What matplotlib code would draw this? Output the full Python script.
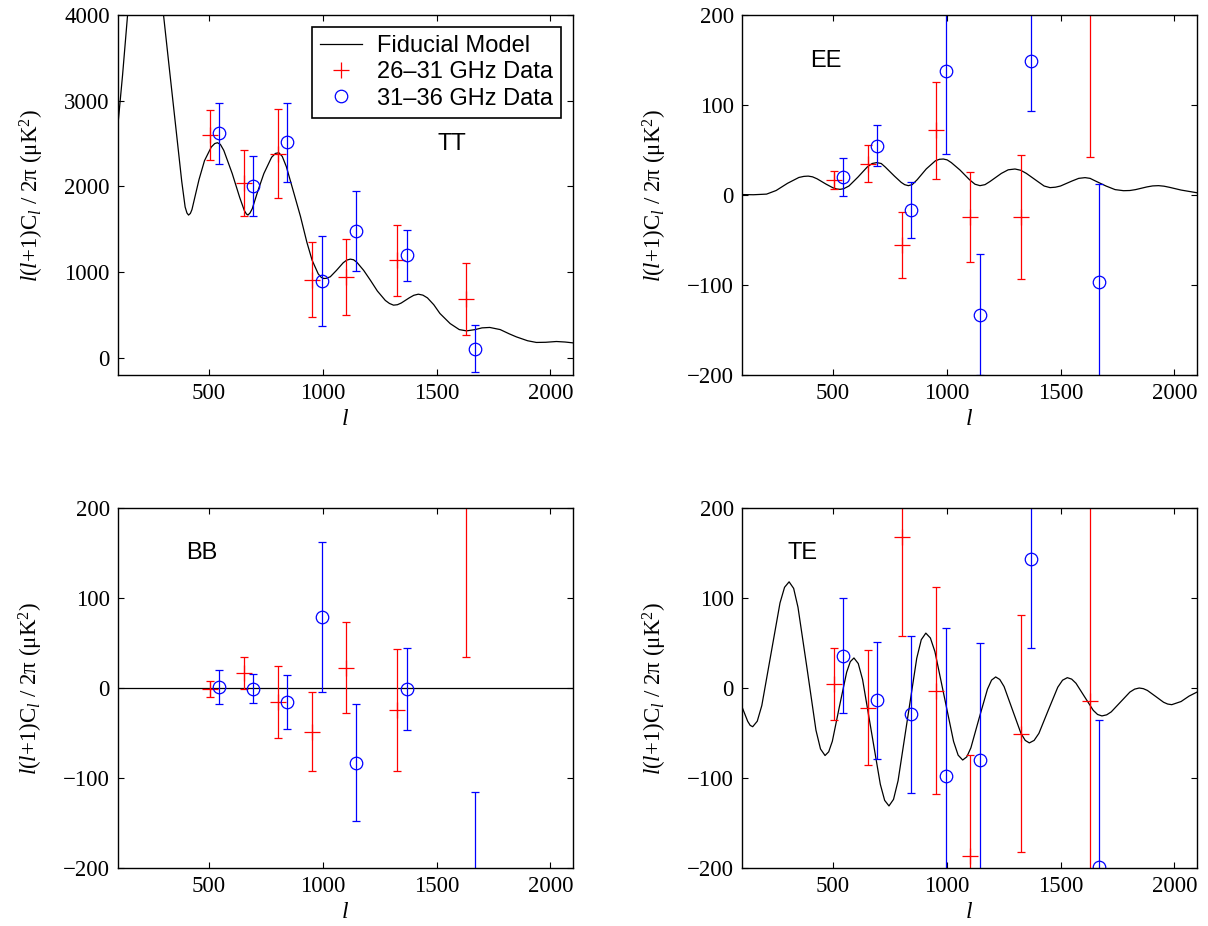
import numpy as np
import matplotlib.pyplot as plt

plt.rcParams['font.family'] = 'Liberation Serif'
plt.rcParams['mathtext.fontset'] = 'custom'
plt.rcParams['mathtext.rm'] = 'Liberation Serif'
plt.rcParams['mathtext.it'] = 'Liberation Serif:italic'

# --- Band positions (multipole l) ---
l_red = [503, 653, 805, 954, 1104, 1328, 1629]
l_blue = [545, 694, 844, 995, 1145, 1369, 1671]

# --- Band powers [uK^2] ---
tt_red = [2599, 2043, 2381, 914, 946, 1140, 685]
tt_red_err = [292, 385, 517, 436, 440, 415, 422]
tt_blue = [2619, 2000, 2514, 895, 1475, 1195, 109]
tt_blue_err = [360, 350, 460, 523, 467, 302, 278]

ee_red = [16.7, 35, -55.6, 72, -24.4, -24, 250]
ee_red_err = [10.4, 20.5, 37, 54, 50, 69, 208]
ee_blue = [20.4, 54.8, -16.3, 137.8, -133, 149, -96.3]
ee_blue_err = [21, 23, 31, 92, 67, 56, 108]

bb_red = [-1.1, 16.7, -15.6, -48.7, 22.7, -24.5, 240]
bb_red_err = [8.5, 17.6, 40, 44, 50.5, 68, 205]
bb_blue = [1.1, -0.7, -15.6, 78.7, -82.8, -0.7, -290]
bb_blue_err = [18.5, 16.3, 29.7, 83, 65.5, 45.4, 174]

te_red = [4.5, -21.9, 168, -3.3, -186.4, -50.9, -14.5]
te_red_err = [40.5, 64, 110, 115, 112, 131.5, 260]
te_blue = [36, -13.7, -29.3, -97.7, -79.5, 143, -199.4]
te_blue_err = [64, 65, 87, 164, 129, 98, 164]

# --- Fiducial model curves ---
tt_l = [100, 120, 142, 160, 190, 220, 250, 280, 300, 325, 354, 380, 395, 403,
        410, 418, 425, 440, 456, 480, 510, 525, 537, 550, 565, 602, 635, 655,
        664, 671, 680, 690, 715, 741, 775, 792, 807, 822, 840, 870, 902, 930,
        953, 980, 993, 1004, 1015, 1033, 1060, 1090, 1105, 1121, 1135, 1150,
        1180, 1209, 1240, 1275, 1293, 1311, 1328, 1345, 1380, 1400, 1420, 1440,
        1460, 1488, 1515, 1560, 1600, 1632, 1670, 1700, 1734, 1780, 1820, 1851,
        1900, 1939, 1980, 2027, 2065, 2100]
tt_model = [2730, 3300, 4000, 4650, 5350, 5650, 5450, 4800, 4000, 3390, 2690,
            2060, 1760, 1690, 1666, 1685, 1730, 1900, 2080, 2300, 2460, 2500,
            2510, 2490, 2420, 2150, 1870, 1720, 1680, 1666, 1690, 1740, 1950,
            2150, 2340, 2385, 2393, 2350, 2230, 1950, 1650, 1350, 1140, 980, 940,
            926, 928, 946, 1020, 1110, 1140, 1152, 1145, 1115, 1020, 907, 780,
            670, 635, 615, 620, 640, 700, 730, 743, 732, 700, 620, 518, 400, 330,
            315, 330, 350, 355, 330, 280, 245, 200, 180, 182, 191, 185, 175]

ee_l = [100, 150, 208, 250, 300, 350, 372, 391, 410, 430, 470, 500, 516, 531,
        547, 570, 610, 650, 672, 692, 712, 730, 770, 800, 815, 831, 848, 870,
        910, 950, 968, 985, 1002, 1020, 1058, 1100, 1124, 1146, 1168, 1190,
        1240, 1270, 1300, 1325, 1350, 1400, 1428, 1454, 1478, 1500, 1550, 1580,
        1608, 1630, 1650, 1700, 1740, 1777, 1805, 1830, 1880, 1905, 1931, 1955,
        1980, 2030, 2100]
ee_model = [0.5, 0.3, 1, 5, 13, 19.5, 20.7, 21, 20.2, 18, 12, 8, 6.7, 6.3, 7,
            10, 20, 31, 35, 36, 35, 31, 21, 14, 11.5, 10.4, 11.5, 17, 29, 38,
            39.7, 40, 39, 36, 27.8, 17, 12, 10.4, 11.5, 15, 24, 28, 28.9, 27.5,
            24, 15, 10, 8.2, 8.7, 10, 15.5, 18.5, 19.3, 18.5, 16, 10, 6, 4.8, 5,
            6, 9, 10.1, 10.4, 9.8, 8.5, 5.5, 2.5]

bb_l = [100, 2100]
bb_model = [0, 0]

te_l = [100, 125, 136, 147, 167, 187, 227, 267, 287, 307, 327, 346, 386, 425,
        445, 465, 481, 497, 528, 560, 576, 592, 611, 630, 669, 708, 727, 746,
        766, 786, 827, 868, 888, 908, 928, 948, 989, 1030, 1050, 1070, 1088,
        1106, 1142, 1179, 1197, 1215, 1233, 1252, 1289, 1326, 1345, 1363, 1384,
        1405, 1446, 1488, 1509, 1530, 1549, 1568, 1606, 1644, 1663, 1682, 1703,
        1723, 1764, 1805, 1826, 1846, 1864, 1882, 1918, 1953, 1971, 1989, 2030,
        2065, 2100]
te_model = [-21, -37, -41.5, -43, -36.9, -19.5, 37.5, 94.5, 111.9, 118, 110.7,
            89.8, 21.5, -46.8, -67.7, -75, -70.9, -59.2, -20.8, 17.6, 29.3, 33.4,
            27.2, 9.4, -48.8, -107, -124.8, -131, -123.7, -103, -35, 33, 53.7,
            61, 55.6, 40.4, -9.5, -59.4, -74.6, -80, -76.5, -66.5, -33.8, -1.2,
            8.8, 12.3, 9.5, 1.6, -24.4, -50.3, -58.2, -61, -58.2, -50.4, -24.8,
            0.9, 8.7, 11.5, 9.9, 5.3, -9.8, -24.8, -29.4, -31, -29.8, -26.5,
            -15.5, -4.5, -1.2, 0, -0.7, -2.7, -9.3, -15.8, -17.8, -18.5, -15,
            -9, -4.5]

ylabel = r'$l(l$+1)C$_l$ / 2π (μK$^2$)'
sans = 'Liberation Sans'


def plot_panel(ax, model_l, model, red, red_err, blue, blue_err,
               name, name_xy, ylim, yticks):
    ax.plot(model_l, model, color='black', lw=0.9, label='Fiducial Model')
    ax.errorbar(l_red, red, yerr=red_err, fmt='none', ecolor='red',
                elinewidth=0.9, capsize=3, capthick=0.9)
    ax.plot(l_red, red, '+', color='red', ms=11, mew=0.9,
            label='26\u201331 GHz Data')
    ax.errorbar(l_blue, blue, yerr=blue_err, fmt='none', ecolor='blue',
                elinewidth=0.9, capsize=3, capthick=0.9)
    ax.plot(l_blue, blue, 'o', mfc='none', mec='blue', ms=9, mew=0.9,
            label='31\u201336 GHz Data')

    ax.text(name_xy[0], name_xy[1], name, transform=ax.transAxes,
            ha='center', va='center', fontsize=17, family=sans)

    ax.set_xlim(100, 2100)
    ax.set_ylim(*ylim)
    ax.set_xticks([500, 1000, 1500, 2000])
    ax.set_yticks(yticks)
    ax.set_xlabel(r'$l$', fontsize=17, labelpad=3)
    ax.set_ylabel(ylabel, fontsize=16.5, labelpad=13)
    ax.tick_params(direction='in', top=True, right=True, length=4, width=0.8,
                   labelsize=16.5, pad=6)
    for sp in ax.spines.values():
        sp.set_linewidth(1.0)


fig, axs = plt.subplots(2, 2, figsize=(12.08, 9.26), dpi=100)
fig.subplots_adjust(left=0.0977, right=0.9909, bottom=0.0626, top=0.9838,
                    wspace=0.3714, hspace=0.3694)

pol_ticks = [-200, -100, 0, 100, 200]
plot_panel(axs[0, 0], tt_l, tt_model, tt_red, tt_red_err, tt_blue, tt_blue_err,
           'TT', (0.733, 0.642), (-200, 4000), [0, 1000, 2000, 3000, 4000])
plot_panel(axs[0, 1], ee_l, ee_model, ee_red, ee_red_err, ee_blue, ee_blue_err,
           'EE', (0.184, 0.872), (-200, 200), pol_ticks)
plot_panel(axs[1, 0], bb_l, bb_model, bb_red, bb_red_err, bb_blue, bb_blue_err,
           'BB', (0.184, 0.874), (-200, 200), pol_ticks)
plot_panel(axs[1, 1], te_l, te_model, te_red, te_red_err, te_blue, te_blue_err,
           'TE', (0.1325, 0.874), (-200, 200), pol_ticks)

# --- Legend only in the TT panel ---
leg = axs[0, 0].legend(loc='upper right', prop={'family': sans, 'size': 17},
                       fancybox=False, edgecolor='black', framealpha=1,
                       handlelength=1.75, handletextpad=0.65, labelspacing=0.18,
                       borderpad=0.35, borderaxespad=0.5)
leg.get_frame().set_linewidth(1.2)

plt.savefig('out.png', dpi=100)
